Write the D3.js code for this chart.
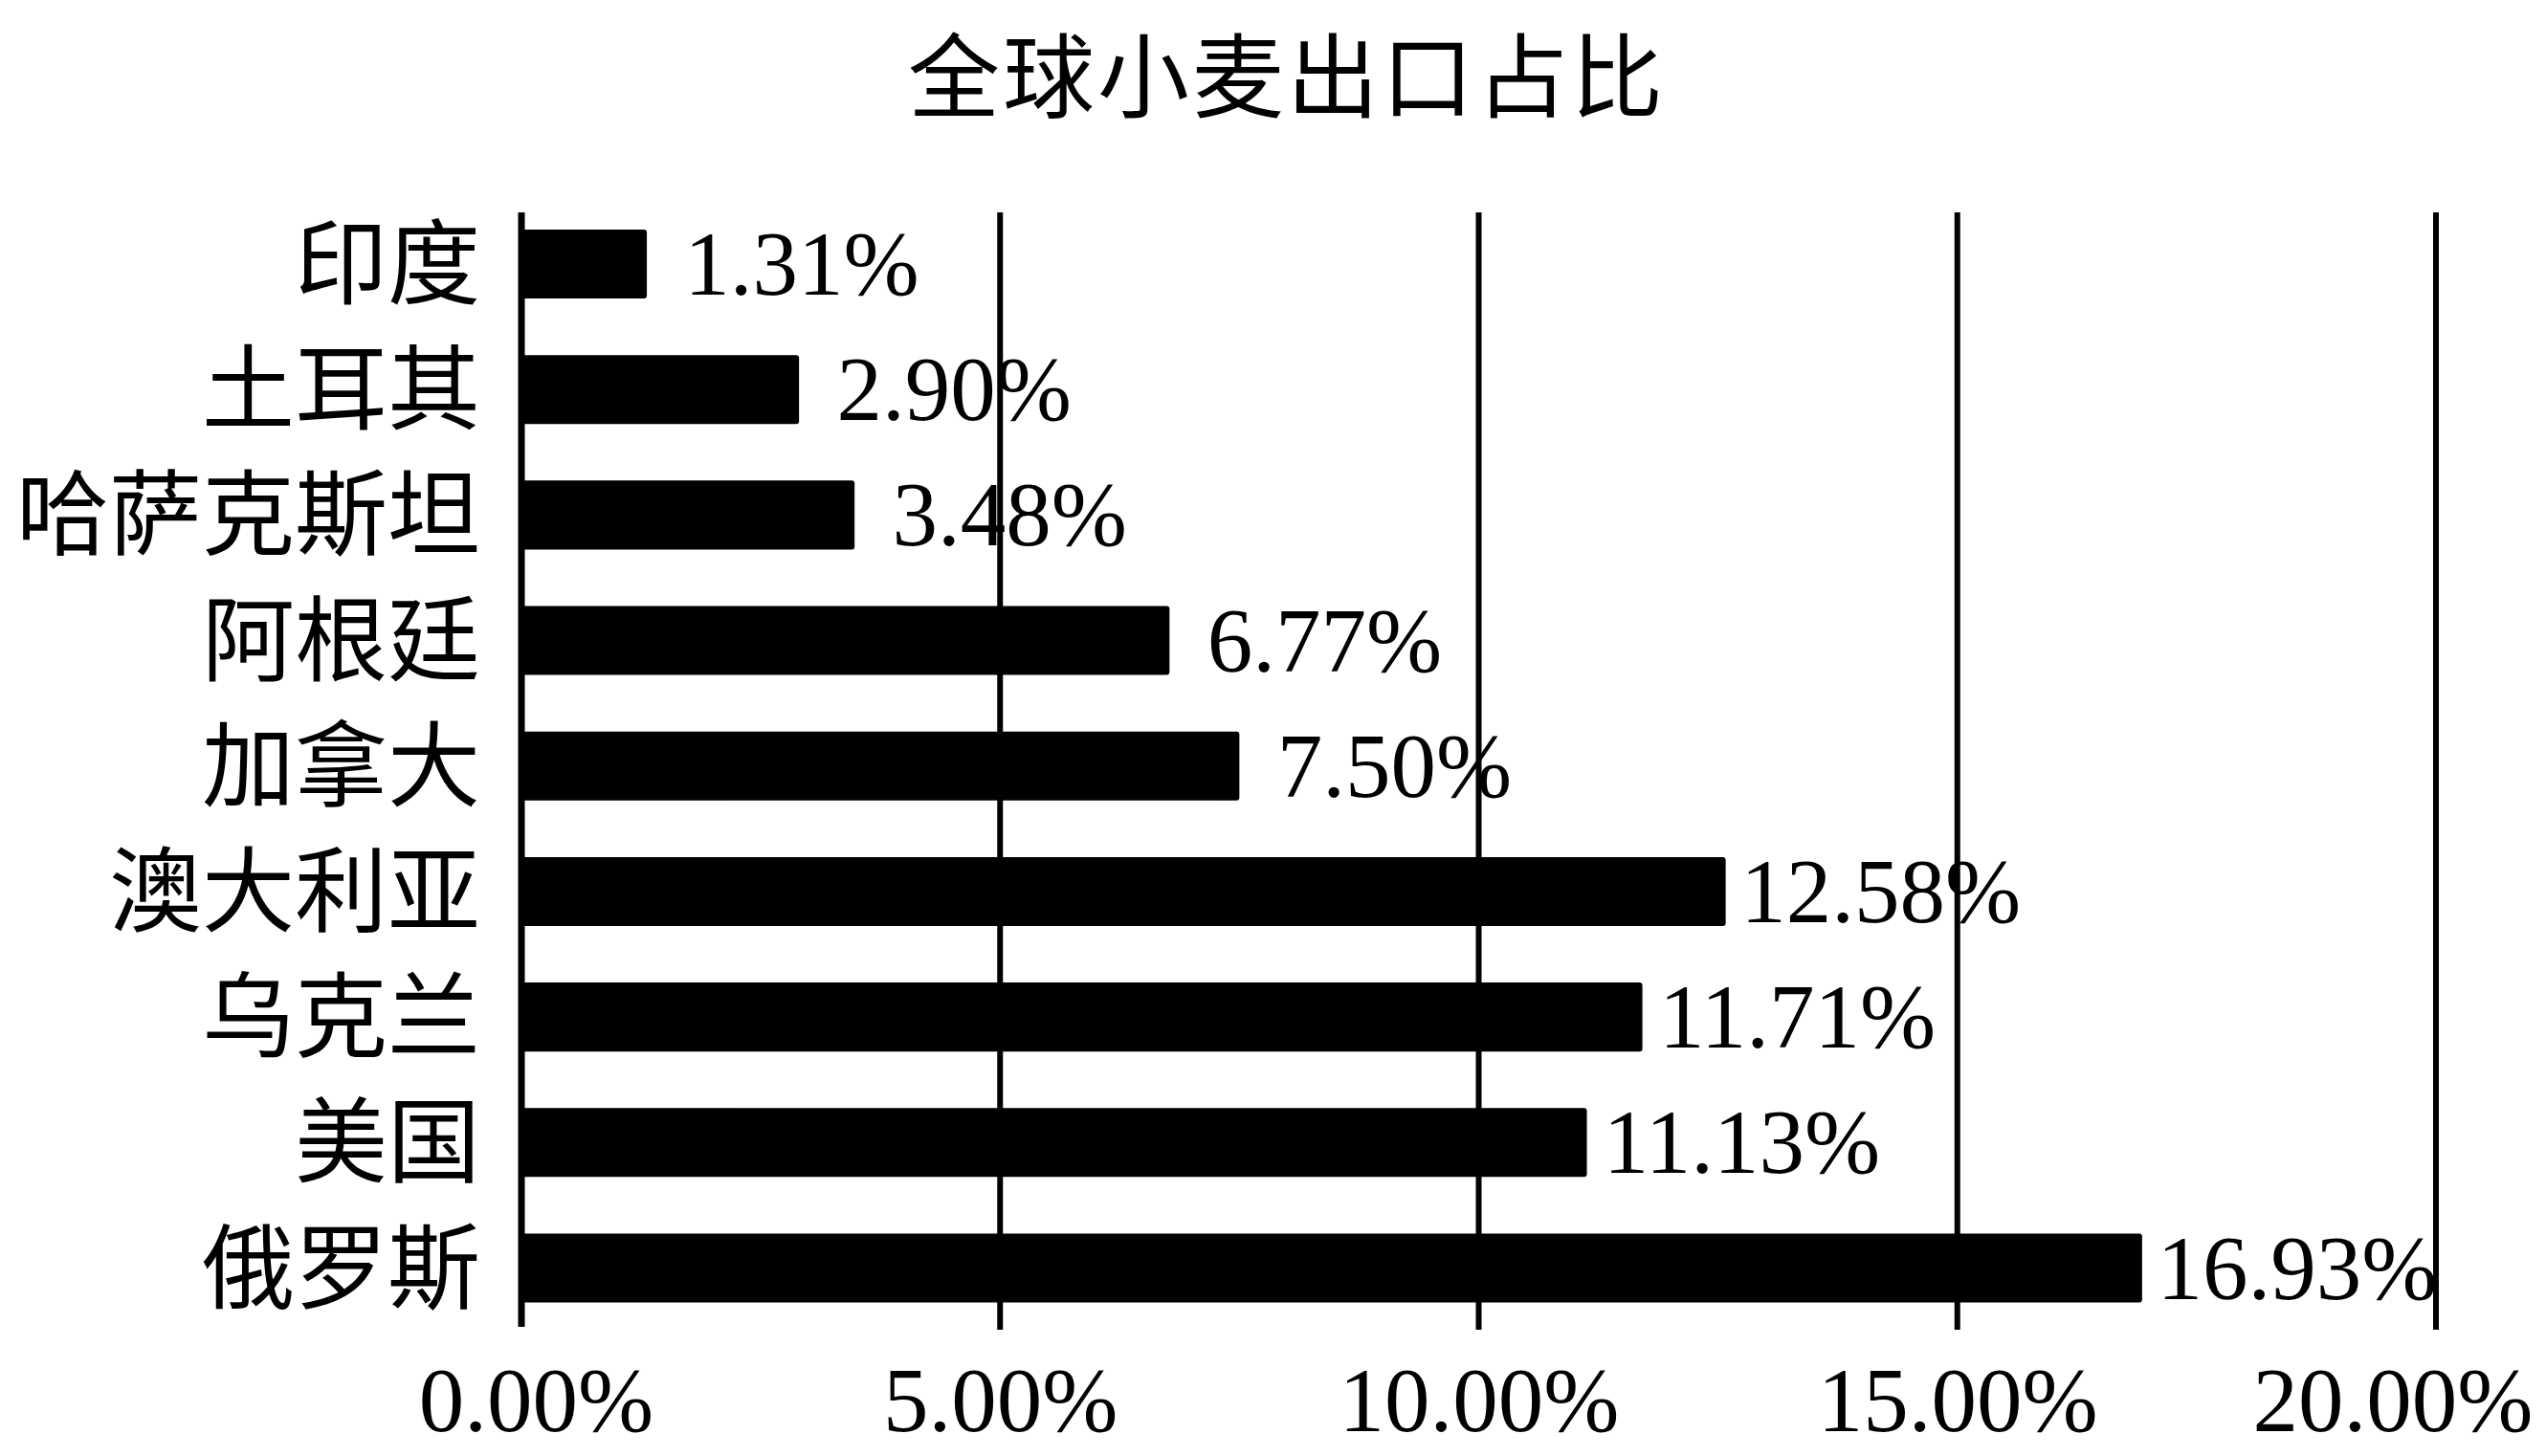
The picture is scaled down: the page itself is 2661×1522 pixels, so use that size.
<!DOCTYPE html>
<html><head><meta charset="utf-8">
<script src="https://cdn.jsdelivr.net/npm/d3@7"></script>
<style>html,body{margin:0;padding:0;background:#fff;}</style>
</head><body>
<script>
const title = "全球小麦出口占比";
const categories = ["印度","土耳其","哈萨克斯坦","阿根廷","加拿大","澳大利亚","乌克兰","美国","俄罗斯"];
const values = [1.31, 2.90, 3.48, 6.77, 7.50, 12.58, 11.71, 11.13, 16.93];
const ticks = [0, 5, 10, 15, 20];

const W = 2661, H = 1522;
const svg = d3.select("body").append("svg").attr("width", W).attr("height", H);
svg.append("rect").attr("width", W).attr("height", H).attr("fill", "#fff");

const latin = "'Liberation Serif','Times New Roman','Noto Sans CJK SC',serif";
const cjk = "'Noto Sans CJK SC','Liberation Serif',serif";

const x = d3.scaleLinear().domain([0, 20]).range([545, 2546]);
const y = d3.scaleBand().domain(categories).range([210.4, 1391.1]).paddingInner(0.451).paddingOuter(0.2255);
const gridTop = 222, gridBottom = 1390;

// gridlines
svg.append("g").selectAll("line").data(ticks.slice(1)).join("line")
  .attr("x1", d => x(d)).attr("x2", d => x(d))
  .attr("y1", gridTop).attr("y2", gridBottom)
  .attr("stroke", "#000").attr("stroke-width", 6);

// bars
svg.append("g").selectAll("rect").data(categories).join("rect")
  .attr("x", x(0)).attr("y", d => y(d))
  .attr("width", (d, i) => x(values[i]) - x(0))
  .attr("height", y.bandwidth())
  .attr("rx", 3).attr("fill", "#000");

// axis line at 0
svg.append("line").attr("x1", x(0)).attr("x2", x(0)).attr("y1", gridTop).attr("y2", 1387)
  .attr("stroke", "#000").attr("stroke-width", 7);

// data labels
svg.append("g").selectAll("text").data(categories).join("text")
  .attr("x", (d, i) => x(values[i]) + 162)
  .attr("y", d => y(d) + y.bandwidth() / 2 + 32)
  .attr("text-anchor", "middle")
  .attr("font-family", latin).attr("font-size", 95)
  .text((d, i) => values[i].toFixed(2) + "%");

// category labels
svg.append("g").selectAll("text").data(categories).join("text")
  .attr("x", 502)
  .attr("y", d => y(d) + y.bandwidth() / 2 + 34)
  .attr("text-anchor", "end")
  .attr("font-family", cjk).attr("font-size", 97)
  .text(d => d);

// x axis tick labels
const xAxis = d3.axisBottom(x).tickValues(ticks).tickSize(0).tickFormat(d => d.toFixed(2) + "%");
const gx = svg.append("g").attr("transform", "translate(0,1430)").call(xAxis);
gx.select(".domain").remove();
gx.selectAll("text").attr("font-family", latin).attr("font-size", 95).attr("fill", "#000")
  .attr("dy", "0.66em");
gx.selectAll(".tick").filter(d => d === 0).select("text").attr("dx", 15);
gx.selectAll(".tick").filter(d => d === 20).select("text")
  .attr("text-anchor", "end").attr("x", W - 14 - x(20));

// title
svg.append("text").attr("x", 1345).attr("y", 115)
  .attr("text-anchor", "middle")
  .attr("font-family", cjk).attr("font-size", 96)
  .attr("letter-spacing", 3)
  .text(title);
</script>
</body></html>
